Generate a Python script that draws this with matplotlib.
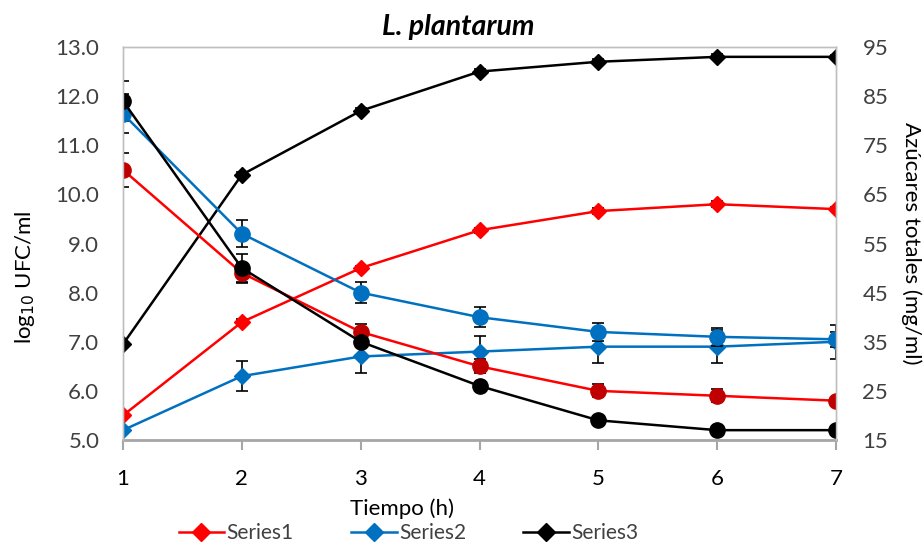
import numpy as np
import matplotlib
matplotlib.use('Agg')
import matplotlib.pyplot as plt
from matplotlib.lines import Line2D

plt.rcParams['font.family'] = ['Lato', 'DejaVu Sans']

tiempo = [1, 2, 3, 4, 5, 6, 7]

# log10 UFC/ml (left axis), diamonds
series1 = [5.5, 7.4, 8.5, 9.27, 9.66, 9.8, 9.7]
series1_err = [0.05, 0.06, 0.05, 0.05, 0.06, 0.06, 0.04]
series2 = [5.2, 6.3, 6.7, 6.8, 6.9, 6.9, 7.0]
series2_err = [0.0, 0.31, 0.34, 0.32, 0.34, 0.34, 0.35]
series3 = [6.95, 10.4, 11.7, 12.5, 12.7, 12.8, 12.8]
series3_err = [0.05, 0.05, 0.05, 0.05, 0.05, 0.05, 0.04]

# azucares totales mg/ml (right axis), circles
az_red = [70, 49, 37, 30, 25, 24, 23]
az_red_err = [3.5, 2.0, 1.7, 1.4, 1.3, 1.3, 0.0]
az_blue = [81.4, 57, 45, 40, 37, 36, 35.5]
az_blue_err = [4.0, 2.7, 2.2, 2.0, 1.9, 1.8, 1.5]
az_black = [84, 50, 35, 26, 19, 17, 17]
az_black_err = [4.1, 2.9, 0.0, 0.0, 0.0, 0.0, 0.0]

red = '#FF0000'
dred = '#C00000'
blue = '#0070C0'
black = '#000000'
grey = '#404040'

fig = plt.figure(figsize=(9.24, 5.48), dpi=100)
ax = fig.add_axes([0.1331, 0.1971, 0.7717, 0.7171])
ax2 = ax.twinx()

ekw = dict(ecolor='black', elinewidth=1.2, capsize=4, capthick=1.2)
handles = []
for y, e, c, lab in [(series1, series1_err, red, 'Series1'),
                     (series2, series2_err, blue, 'Series2'),
                     (series3, series3_err, black, 'Series3')]:
    ax.errorbar(tiempo, y, yerr=e, color=c, marker='D', markersize=8,
                linewidth=1.8, **ekw)
    handles.append(Line2D([], [], color=c, marker='D', markersize=9,
                          linewidth=1.8, label=lab))

for y, e, c, mc in [(az_red, az_red_err, red, dred),
                    (az_blue, az_blue_err, blue, blue),
                    (az_black, az_black_err, black, black)]:
    ax2.errorbar(tiempo, y, yerr=e, color=c, marker='o', markersize=11,
                 markerfacecolor=mc, markeredgecolor=mc,
                 linewidth=1.8, **ekw)

ax.set_xlim(1, 7)
ax.set_ylim(5, 13)
ax2.set_ylim(15, 95)
ax.set_xticks(tiempo)
ax.set_yticks(np.arange(5, 13.5, 1.0))
ax.set_yticklabels(['%.1f' % v for v in np.arange(5, 13.5, 1.0)])
ax2.set_yticks(np.arange(15, 96, 10))

for a in (ax, ax2):
    for s in a.spines.values():
        s.set_color('#BFBFBF')
        s.set_linewidth(1.0)
ax.spines['bottom'].set_color('#A6A6A6')
ax.spines['bottom'].set_linewidth(2.0)
ax2.spines['bottom'].set_visible(False)

ax.tick_params(axis='x', direction='out', length=7, width=1.5, color='#A6A6A6',
               labelsize=16, labelcolor='black', pad=14)
ax.tick_params(axis='y', length=0, labelsize=16, labelcolor=grey, pad=17)
ax2.tick_params(axis='y', length=0, labelsize=16, labelcolor=grey, pad=19)

ax.set_ylabel('log$_{10}$ UFC/ml', fontsize=16, va='center')
ax.yaxis.set_label_coords(-0.137, 0.415)
ax2.set_ylabel('Azúcares totales (mg/ml)', fontsize=16, rotation=270, va='center')
ax2.yaxis.set_label_coords(1.105, 0.5)
ax.set_xlabel('Tiempo (h)', fontsize=16, va='center')
ax.xaxis.set_label_coords(0.391, -0.176)
ax.set_title('L. plantarum', fontsize=20.5, fontweight='bold', fontstyle='italic',
             x=0.47, pad=9)

fig.legend(handles=handles, loc='center', bbox_to_anchor=(0.442, 0.027), ncol=3,
           frameon=False, fontsize=15, columnspacing=2.75, handlelength=2.2,
           handletextpad=0.1, labelcolor=grey)

fig.savefig('out.png', dpi=100)
